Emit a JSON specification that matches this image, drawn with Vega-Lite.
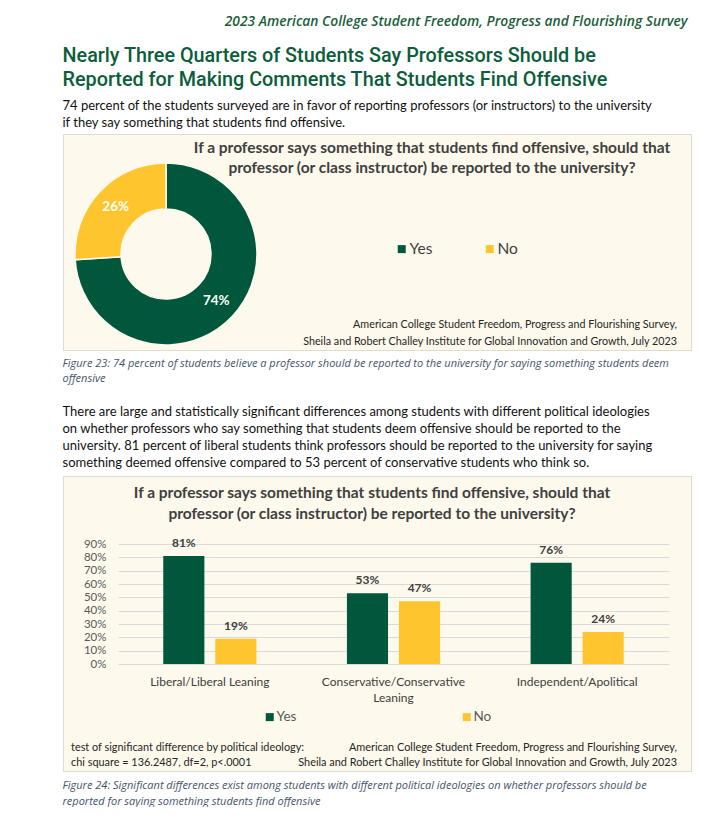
{
  "$schema": "https://vega.github.io/schema/vega-lite/v6.json",
  "background": "white",
  "padding": {"left": 62, "top": 14, "right": 38, "bottom": 0},
  "config": {"font": "Lato", "view": {"stroke": null}},
  "title": {
    "text": "2023 American College Student Freedom, Progress and Flourishing Survey",
    "anchor": "end", "font": "Open Sans", "fontStyle": "italic", "fontWeight": 600,
    "fontSize": 13.8, "color": "#1b5e3b", "offset": 18, "dx": -4
  },
  "spacing": 6,
  "resolve": {"scale": {"color": "independent"}, "legend": {"color": "independent"}},
  "vconcat": [
    {
      "title": {
        "text": ["Nearly Three Quarters of Students Say Professors Should be", "Reported for Making Comments That Students Find Offensive"],
        "subtitle": ["74 percent of the students surveyed are in favor of reporting professors (or instructors) to the university", "if they say something that students find offensive."],
        "anchor": "start", "font": "Roboto", "fontSize": 19.8, "fontWeight": 500, "color": "#0b5d3b", "lineHeight": 23.3,
        "subtitleFont": "Lato", "subtitleFontSize": 13, "subtitleColor": "#111111", "subtitleLineHeight": 17,
        "subtitlePadding": 10, "offset": 4
      },
      "resolve": {"scale": {"color": "independent"}, "legend": {"color": "independent"}},
      "vconcat": [
        {
          "width": 628, "height": 216,
          "view": {"fill": "#fdf9ed", "stroke": "#dedbd0"},
          "title": {
            "text": ["If a professor says something that students find offensive, should that", "professor (or class instructor) be reported to the university?"],
            "fontSize": 15.5, "fontWeight": "bold", "color": "#404040", "lineHeight": 20, "offset": -42, "dx": 55, "anchor": "middle"
          },
          "layer": [
            {
              "data": {"values": [{"answer": "Yes", "pct": 0.74}, {"answer": "No", "pct": 0.26}]},
              "mark": {"type": "arc", "outerRadius": 91, "innerRadius": 45, "xOffset": -211, "yOffset": 12, "stroke": "#fdf9ed", "strokeWidth": 1.5},
              "encoding": {
                "theta": {"field": "pct", "type": "quantitative", "stack": true},
                "order": {"field": "pct", "sort": "descending"},
                "color": {
                  "field": "answer", "type": "nominal",
                  "scale": {"domain": ["Yes", "No"], "range": ["#00573c", "#fec52e"]},
                  "legend": {"orient": "none", "legendX": 331, "legendY": 107, "direction": "horizontal", "title": null,
                    "symbolType": "square", "symbolSize": 64, "symbolStrokeWidth": 0, "labelFontSize": 15.5,
                    "labelColor": "#404040", "columnPadding": 49, "labelOffset": 0}
                }
              }
            },
            {
              "data": {"values": [{"answer": "Yes", "pct": 0.74}, {"answer": "No", "pct": 0.26}]},
              "mark": {"type": "text", "radius": 69, "xOffset": -211, "yOffset": 12, "fontSize": 13.5, "fontWeight": "bold", "fill": "white"},
              "encoding": {
                "theta": {"field": "pct", "type": "quantitative", "stack": true},
                "order": {"field": "pct", "sort": "descending"},
                "text": {"field": "pct", "type": "quantitative", "format": ".0%"}
              }
            },
            {
              "data": {"values": [{"src": "American College Student Freedom, Progress and Flourishing Survey,\nSheila and Robert Challey Institute for Global Innovation and Growth, July 2023"}]},
              "mark": {"type": "text", "align": "right", "baseline": "bottom", "lineBreak": "\n", "lineHeight": 17, "fontSize": 10.75, "color": "#262626", "dx": -14, "dy": -20},
              "encoding": {"text": {"field": "src"}, "x": {"value": "width"}, "y": {"value": "height"}}
            }
          ]
        }
      ]
    },
    {
      "title": {
        "text": ["Figure 23: 74 percent of students believe a professor should be reported to the university for saying something students deem", "offensive"],
        "subtitle": ["There are large and statistically significant differences among students with different political ideologies", "on whether professors who say something that students deem offensive should be reported to the", "university.  81 percent of liberal students think professors should be reported to the university for saying", "something deemed offensive compared to 53 percent of conservative students who think so."],
        "anchor": "start", "font": "Open Sans", "fontSize": 11, "fontStyle": "italic", "fontWeight": "normal", "color": "#44546a", "lineHeight": 15,
        "subtitleFont": "Lato", "subtitleFontSize": 13, "subtitleColor": "#111111", "subtitleLineHeight": 17.3,
        "subtitlePadding": 22, "offset": 5
      },
      "resolve": {"scale": {"color": "independent"}, "legend": {"color": "independent"}},
      "vconcat": [
        {
          "title": {
            "text": ["Figure 24: Significant differences exist among students with different political ideologies on whether professors should be", "reported for saying something students find offensive"],
            "orient": "bottom", "anchor": "start", "font": "Open Sans", "fontSize": 11, "fontStyle": "italic", "fontWeight": "normal", "color": "#44546a",
            "lineHeight": 16, "offset": 8
          },
          "resolve": {"scale": {"color": "independent"}, "legend": {"color": "independent"}},
          "vconcat": [
            {
              "width": 628, "height": 295,
              "view": {"fill": "#fdf9ed", "stroke": "#dedbd0"},
              "title": {
                "text": ["If a professor says something that students find offensive, should that", "professor (or class instructor) be reported to the university?"],
                "fontSize": 15.5, "fontWeight": "bold", "color": "#404040", "lineHeight": 21, "offset": -46, "dx": -5, "anchor": "middle"
              },
              "data": {"values": [
                {"group": "Liberal/Liberal Leaning", "answer": "Yes", "pct": 0.81},
                {"group": "Liberal/Liberal Leaning", "answer": "No", "pct": 0.19},
                {"group": "Conservative/Conservative Leaning", "answer": "Yes", "pct": 0.53},
                {"group": "Conservative/Conservative Leaning", "answer": "No", "pct": 0.47},
                {"group": "Independent/Apolitical", "answer": "Yes", "pct": 0.76},
                {"group": "Independent/Apolitical", "answer": "No", "pct": 0.24}
              ]},
              "layer": [
                {
                  "mark": {"type": "bar"},
                  "encoding": {
                    "x": {"field": "group", "type": "nominal", "sort": ["Liberal/Liberal Leaning", "Conservative/Conservative Leaning", "Independent/Apolitical"],
                      "scale": {"range": [55, 606], "paddingInner": 0, "paddingOuter": 0},
                      "axis": {"title": null, "orient": "bottom", "offset": -102, "domain": false, "ticks": false, "grid": false,
                        "labelAngle": 0, "labelFontSize": 12, "labelColor": "#404040", "labelPadding": 7, "labelLineHeight": 16,
                        "labelExpr": "datum.label == 'Conservative/Conservative Leaning' ? ['Conservative/Conservative', 'Leaning'] : datum.label"}},
                    "xOffset": {"field": "answer", "type": "nominal", "sort": ["Yes", "No"], "scale": {"paddingInner": 0.21, "paddingOuter": 0.87}},
                    "y": {"field": "pct", "type": "quantitative", "scale": {"domain": [0, 0.9], "range": [188, 68], "nice": false},
                      "axis": {"title": null, "values": [0, 0.1, 0.2, 0.3, 0.4, 0.5, 0.6, 0.7, 0.8, 0.9], "tickCount": 10, "labelOverlap": false, "format": ".0%", "offset": -46,
                        "domain": false, "ticks": false, "grid": true, "gridColor": "#d9d9d9", "labelFontSize": 11.5, "labelColor": "#595959", "labelPadding": 3}},
                    "color": {
                      "field": "answer", "type": "nominal",
                      "scale": {"domain": ["Yes", "No"], "range": ["#00573c", "#fec52e"]},
                      "legend": {"orient": "none", "legendX": 200, "legendY": 234, "direction": "horizontal", "title": null,
                        "symbolType": "square", "symbolSize": 64, "symbolStrokeWidth": 0, "labelFontSize": 13.5,
                        "labelColor": "#595959", "columnPadding": 163, "labelOffset": 0}
                    }
                  }
                },
                {
                  "mark": {"type": "text", "baseline": "bottom", "dy": -6, "fontWeight": "bold", "fontSize": 12, "color": "#404040"},
                  "encoding": {
                    "x": {"field": "group", "type": "nominal", "sort": ["Liberal/Liberal Leaning", "Conservative/Conservative Leaning", "Independent/Apolitical"]},
                    "xOffset": {"field": "answer", "type": "nominal", "sort": ["Yes", "No"]},
                    "y": {"field": "pct", "type": "quantitative",
                      "axis": {"title": null, "values": [0, 0.1, 0.2, 0.3, 0.4, 0.5, 0.6, 0.7, 0.8, 0.9], "tickCount": 10, "labelOverlap": false, "format": ".0%", "offset": -46,
                        "domain": false, "ticks": false, "grid": true, "gridColor": "#d9d9d9", "labelFontSize": 11.5, "labelColor": "#595959", "labelPadding": 3}},
                    "text": {"field": "pct", "type": "quantitative", "format": ".0%"}
                  }
                },
                {
                  "data": {"values": [{"note": "test of significant difference by political ideology:\nchi square = 136.2487, df=2, p<.0001"}]},
                  "mark": {"type": "text", "align": "left", "baseline": "bottom", "lineBreak": "\n", "lineHeight": 15, "fontSize": 10.9, "color": "#262626", "dx": -47, "dy": -18},
                  "encoding": {"text": {"field": "note"}, "x": {"datum": "Liberal/Liberal Leaning", "type": "nominal", "bandPosition": 0}, "y": {"value": "height"}}
                },
                {
                  "data": {"values": [{"src": "American College Student Freedom, Progress and Flourishing Survey,\nSheila and Robert Challey Institute for Global Innovation and Growth, July 2023"}]},
                  "mark": {"type": "text", "align": "right", "baseline": "bottom", "lineBreak": "\n", "lineHeight": 15, "fontSize": 10.9, "color": "#262626", "dx": -14, "dy": -18},
                  "encoding": {"text": {"field": "src"}, "x": {"value": "width"}, "y": {"value": "height"}}
                }
              ]
            }
          ]
        }
      ]
    }
  ]
}
